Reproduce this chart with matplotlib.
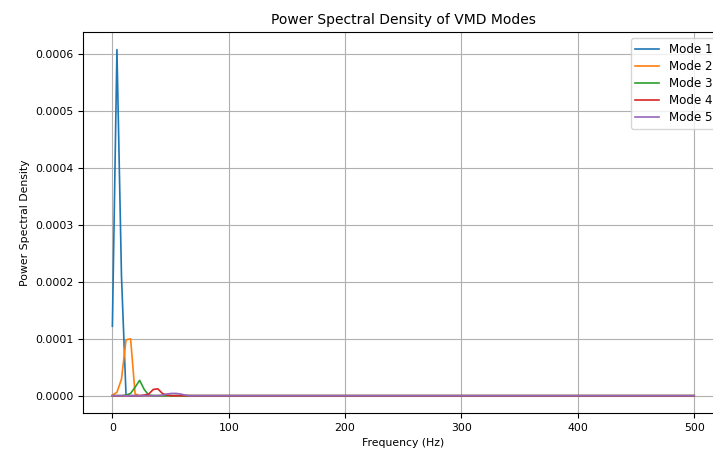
import numpy as np
import matplotlib
matplotlib.use("Agg")
import matplotlib.pyplot as plt

# Welch-style frequency axis: fs = 1000 Hz, nperseg = 256 -> 129 bins 0..500 Hz
fs = 1000
nperseg = 256
freqs = np.arange(nperseg // 2 + 1) * fs / nperseg

# PSD values for the first bins (rest are ~0)
mode1_low = [1.22e-4, 6.08e-4, 2.10e-4, 1.0e-6, 0.0]
mode2_low = [1.0e-6, 6.0e-6, 2.9e-5, 9.8e-5, 1.0e-4, 3.0e-6, 0.0]
mode3_low = [0.0, 0.0, 0.0, 1.0e-6, 4.0e-6, 1.5e-5, 2.7e-5, 1.1e-5, 1.0e-6, 0.0]
mode4_low = [0.0, 0.0, 0.0, 0.0, 0.0, 0.0, 0.0, 1.0e-6, 3.0e-6, 1.1e-5,
             1.2e-5, 4.0e-6, 1.0e-6, 0.0]
mode5_low = [0.0, 0.0, 0.0, 0.0, 0.0, 0.0, 0.0, 0.0, 0.0, 0.0,
             0.0, 1.0e-6, 3.0e-6, 4.0e-6, 4.0e-6, 3.0e-6, 1.0e-6, 0.0]

labels = ["Mode 1", "Mode 2", "Mode 3", "Mode 4", "Mode 5"]
modes_low = [mode1_low, mode2_low, mode3_low, mode4_low, mode5_low]


def full_psd(low):
    out = np.zeros(len(freqs))
    out[:len(low)] = low
    return out


plt.rcParams["font.size"] = 7.8
plt.rcParams["lines.linewidth"] = 1.2

fig = plt.figure(figsize=(7.13, 4.5), dpi=100)
# axes extends past the right edge like the cropped reference
ax = fig.add_axes([83.3 / 713, (450 - 413) / 450, 640 / 713, 380.7 / 450])

for lab, low in zip(labels, modes_low):
    ax.plot(freqs, full_psd(low), label=lab)

ax.set_title("Power Spectral Density of VMD Modes", fontsize=10)
ax.set_xlabel("Frequency (Hz)")
ax.set_ylabel("Power Spectral Density")
ax.grid(True)
ax.legend(loc="upper right", fontsize=8.6, labelspacing=0.33)

fig.savefig("out.png", dpi=100)
